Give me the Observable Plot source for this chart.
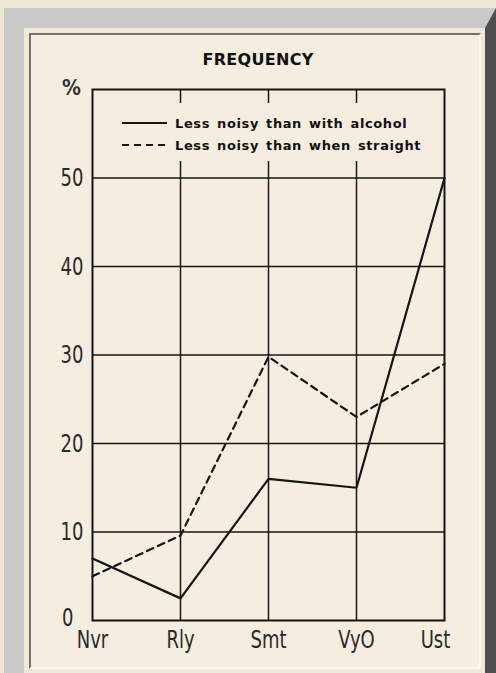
<!DOCTYPE html>
<html><head><meta charset="utf-8">
<script src="https://cdn.jsdelivr.net/npm/d3@7"></script>
<script src="https://cdn.jsdelivr.net/npm/@observablehq/plot@0.6"></script>
<style>
html,body{margin:0;padding:0;width:496px;height:673px;overflow:hidden;background:#efe7d5;}
#frame{position:absolute;left:4px;top:8px;width:492px;height:720px;box-sizing:border-box;border-style:solid;border-width:20px 11px 11px 20px;border-color:#c9c9c9 #4f4f4f #4f4f4f #c9c9c9;background:#f1e9d8;}
#paper{position:absolute;left:29px;top:33px;width:452px;height:636px;box-sizing:border-box;border:2px solid;border-color:#76716a #fbf8f1 #fbf8f1 #76716a;background:#f4ede0;}
#chart{position:absolute;left:30px;top:34px;}
#title{position:absolute;left:158px;width:200px;top:50px;text-align:center;font:bold 16px "DejaVu Sans",sans-serif;color:#111;letter-spacing:0.3px;}
#legend{position:absolute;left:94px;top:103px;width:348px;height:58px;background:#f4ede0;}
.row{position:absolute;left:28px;height:20px;display:flex;align-items:center;font:bold 13px "DejaVu Sans",sans-serif;letter-spacing:0.6px;word-spacing:2px;color:#111;white-space:nowrap;}
.row svg{margin-right:8px;}
</style></head>
<body>
<div id="frame"></div>
<div id="paper"></div>
<div id="chart"></div>
<div id="title">FREQUENCY</div>
<div id="legend"></div>
<script>
const categories = ["Nvr", "Rly", "Smt", "VyO", "Ust"];
const withAlcohol = [7, 2.5, 16, 15, 50];
const whenStraight = [5, 9.6, 29.8, 23, 29];
const seriesNames = ["Less noisy than with alcohol", "Less noisy than when straight"];
const yTicks = [10, 20, 30, 40, 50];
const yZeroTick = [0];
const yGrid = [10, 20, 30, 40, 50];
const xGrid = ["Rly", "Smt", "VyO"];
const xTicksMain = ["Nvr", "Rly", "Smt", "VyO"];
const xTickLast = ["Ust"];
const yUnit = "%";

const dashes = [null, "7,5"];
const data1 = categories.map((c, i) => ({cat: c, v: withAlcohol[i]}));
const data2 = categories.map((c, i) => ({cat: c, v: whenStraight[i]}));
const ink = "#151515";
const tickFont = '"DejaVu Sans Condensed","DejaVu Sans",sans-serif';

const chart = Plot.plot({
  width: 450,
  height: 634,
  marginLeft: 62,
  marginRight: 36,
  marginTop: 55,
  marginBottom: 48,
  style: {background: "transparent", color: ink, fontFamily: tickFont},
  x: {type: "point", domain: categories, padding: 0},
  y: {domain: [0, 60]},
  marks: [
    Plot.ruleY(yGrid, {stroke: ink, strokeWidth: 1.5}),
    Plot.ruleX(xGrid, {x: d => d, stroke: ink, strokeWidth: 1.5}),
    Plot.frame({stroke: ink, strokeWidth: 2}),
    Plot.line(data1, {x: "cat", y: "v", stroke: ink, strokeWidth: 2.2}),
    Plot.line(data2, {x: "cat", y: "v", stroke: ink, strokeWidth: 2.2, strokeDasharray: dashes[1]}),
    Plot.axisY({ticks: yTicks, tickSize: 0, tickPadding: 9, fontSize: 25, label: null, fill: "#2a2a2a"}),
    Plot.axisY({ticks: yZeroTick, tickSize: 0, tickPadding: 19, dy: -3, fontSize: 25, label: null, fill: "#2a2a2a"}),
    Plot.axisX({ticks: xTicksMain, tickSize: 0, tickPadding: 10, fontSize: 25, label: null, fill: "#2a2a2a"}),
    Plot.axisX({ticks: xTickLast, tickSize: 0, tickPadding: 10, dx: -9, fontSize: 25, label: null, fill: "#2a2a2a"}),
    Plot.text([yUnit], {text: d => d, frameAnchor: "top-left", textAnchor: "middle", dx: -21, dy: -1, fontSize: 21, fontWeight: "bold", lineAnchor: "middle", fill: "#333"})
  ]
});
// condense the tick lettering horizontally
chart.querySelectorAll('g[aria-label$="tick label"] text').forEach(t => {
  let tr = t.getAttribute("transform");
  if (!tr) {
    const x = t.getAttribute("x") || 0, y = t.getAttribute("y") || 0;
    t.removeAttribute("x"); t.removeAttribute("y");
    tr = `translate(${x},${y})`;
  }
  t.setAttribute("transform", tr + " scale(0.8,1)");
});
document.getElementById("chart").appendChild(chart);

const legend = document.getElementById("legend");
seriesNames.forEach((name, i) => {
  const row = document.createElement("div");
  row.className = "row";
  row.style.top = (10 + i * 22) + "px";
  row.innerHTML = `<svg width="45" height="6"><line x1="0" x2="45" y1="3" y2="3" stroke="${ink}" stroke-width="1.8" ${dashes[i] ? `stroke-dasharray="${dashes[i]}"` : ""}/></svg><span>${name}</span>`;
  legend.appendChild(row);
});
</script>
</body></html>
